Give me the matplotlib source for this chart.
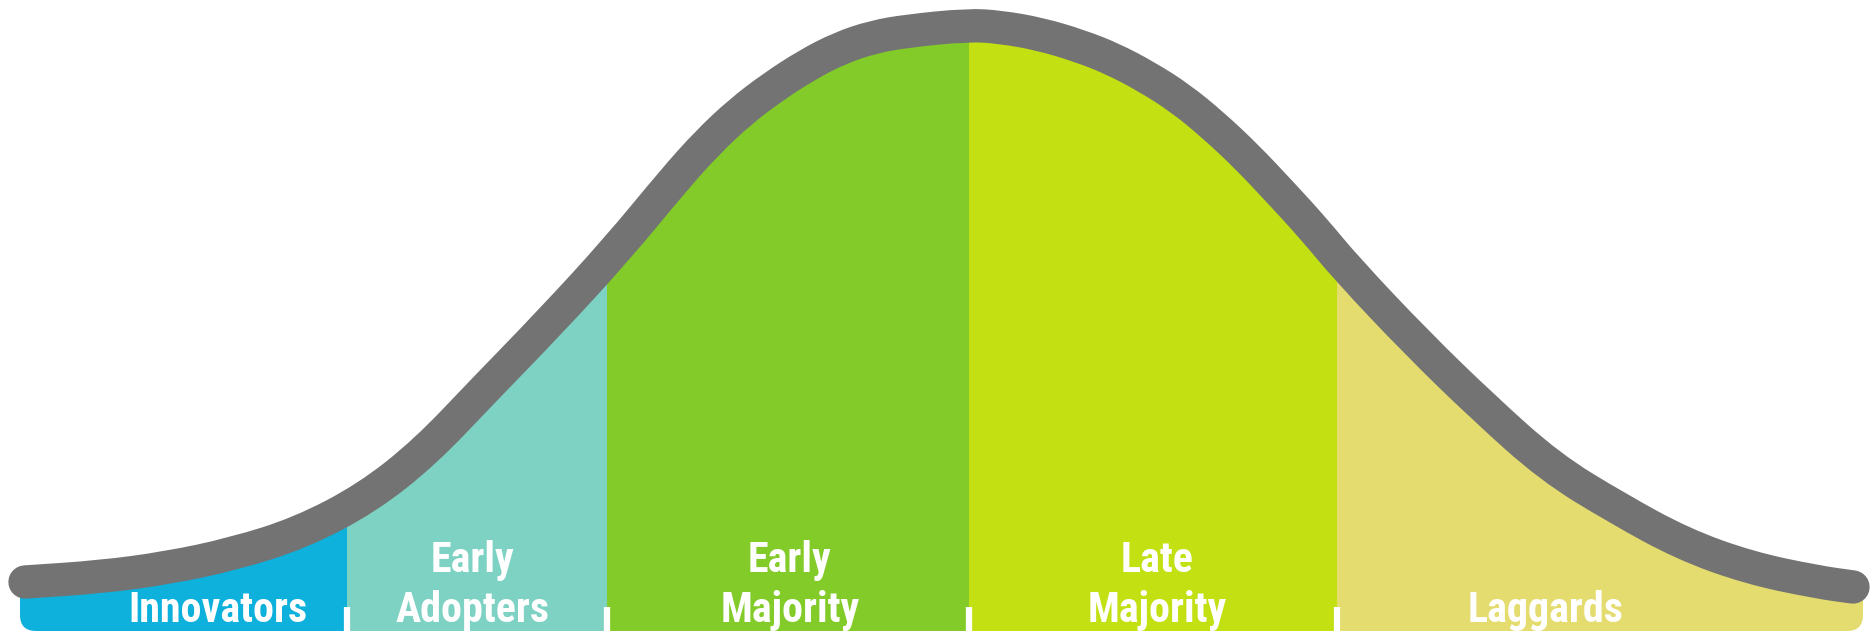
import numpy as np
import matplotlib
matplotlib.use('Agg')
import matplotlib.pyplot as plt
from matplotlib import font_manager
from matplotlib.font_manager import FontProperties
from matplotlib.patches import Rectangle, FancyBboxPatch, PathPatch
from matplotlib.path import Path

# 曲线（读自图片，单位：像素，高度从底部量起）
curve_x = [25, 100, 167, 233, 300, 367, 425, 483, 550, 617, 673, 707, 740, 773,
           807, 840, 873, 907, 968, 1000, 1040, 1080, 1113, 1147, 1180, 1213,
           1247, 1280, 1313, 1347, 1417, 1483, 1550, 1617, 1683, 1750, 1817, 1853]
curve_h = [53, 58, 67, 81, 102, 137, 183, 244, 313, 386, 454, 492, 523, 548,
           570, 587, 598, 604, 610, 608, 601, 589, 576, 558, 537, 510,
           478, 443, 407, 366, 292, 228, 168, 127, 91, 67, 53, 48]

# 分段
seg_edges = [20, 347, 607, 969, 1337, 1863]
seg_colors = ['#0EB0DC', '#7ED2C3', '#82CB29', '#C3E013', '#E4DC6F']
seg_labels = ['Innovators', 'Early\nAdopters', 'Early\nMajority', 'Late\nMajority', 'Laggards']
label_x = [218, 473, 790, 1157, 1546]
# 参考图中每行文字的宽度，用来定字号
ref_width = {'Innovators': 183, 'Adopters': 152, 'Majority': 138, 'Laggards': 155,
             'Early': 85, 'Late': 71}

base = 4
line_color = '#737373'


def pick_font():
    # 找一个窄体字，找不到就用 Liberation Sans Bold
    prefs = ['LiberationSansNarrow-Bold', 'RobotoCondensed-Bold', 'RobotoCondensed-Medium',
             'NotoSans-CondensedBold', 'NotoSans-ExtraCondensedBold', 'NotoSans-CondensedSemiBold',
             'OpenSans_Condensed-Bold', 'OpenSansCondensed-Bold', 'DejaVuSansCondensed-Bold',
             'LiberationSansNarrow-Regular', 'RobotoCondensed-Regular']
    files = [f.fname for f in font_manager.fontManager.ttflist]
    for p in prefs:
        for fn in files:
            if p.lower() in fn.lower().replace(' ', ''):
                return FontProperties(fname=fn)
    for f in font_manager.fontManager.ttflist:
        if ('Condensed' in f.fname or 'Narrow' in f.fname) and 'Bold' in f.fname:
            return FontProperties(fname=f.fname)
    return FontProperties(family='Liberation Sans', weight='bold')


fp = pick_font()

fig = plt.figure(figsize=(18.74, 6.35), dpi=100)
ax = fig.add_axes([0, 0, 1, 1])
ax.set_xlim(0, 1874)
ax.set_ylim(0, 635)
ax.axis('off')

# 平滑曲线：用二次贝塞尔，经过相邻点的中点
pts = np.column_stack([curve_x, curve_h]).astype(float)
verts = [pts[0], (pts[0] + pts[1]) / 2]
codes = [Path.MOVETO, Path.LINETO]
for i in range(1, len(pts) - 1):
    verts += [pts[i], (pts[i] + pts[i + 1]) / 2]
    codes += [Path.CURVE3, Path.CURVE3]
verts.append(pts[-1])
codes.append(Path.LINETO)
curve_path = Path(verts, codes)

# 填充区域（两端比曲线略宽）
fill_verts = [(seg_edges[0], base), (seg_edges[0], pts[0][1])] + verts[:] + \
             [(seg_edges[-1], pts[-1][1]), (seg_edges[-1], base), (seg_edges[0], base)]
fill_codes = [Path.MOVETO, Path.LINETO, Path.LINETO] + codes[1:] + \
             [Path.LINETO, Path.LINETO, Path.CLOSEPOLY]
fill_path = Path(fill_verts, fill_codes)

# 先画两端带圆角的段，再画中间段覆盖
for i in [0, 4, 1, 2, 3]:
    x0, x1 = seg_edges[i], seg_edges[i + 1]
    patch = PathPatch(fill_path, facecolor=seg_colors[i], edgecolor='none', zorder=1)
    ax.add_patch(patch)
    if i == 0:
        clip = FancyBboxPatch((x0, base), 450, 700, boxstyle='round,pad=0,rounding_size=16',
                              transform=ax.transData)
    elif i == 4:
        clip = FancyBboxPatch((x0 - 100, base), x1 - x0 + 100, 700,
                              boxstyle='round,pad=0,rounding_size=16', transform=ax.transData)
    else:
        clip = Rectangle((x0, 0), x1 - x0, 700, transform=ax.transData)
    patch.set_clip_path(clip)

# 底部白色刻度
ax.vlines(seg_edges[1:-1], 0, 28, colors='white', linewidth=4.5, zorder=3)

# 灰色曲线
ax.add_patch(PathPatch(curve_path, facecolor='none', edgecolor=line_color, linewidth=24,
                       capstyle='round', joinstyle='round', zorder=4))

# 标签
texts = []
for lab, lx in zip(seg_labels, label_x):
    lines = lab.split('\n')
    for k, txt in enumerate(lines):
        y = 13 + 50 * (len(lines) - 1 - k)
        t = ax.text(lx, y, txt, color='white', fontproperties=fp, fontsize=30,
                    ha='center', va='baseline', zorder=5)
        texts.append(t)

# 按参考宽度调整字号
fig.canvas.draw()
r = fig.canvas.get_renderer()
ratios = [ref_width[t.get_text()] / t.get_window_extent(r).width for t in texts]
size = 30 * float(np.mean(ratios))
for t in texts:
    t.set_fontsize(size)

fig.savefig('out.png', dpi=100, facecolor='white')
